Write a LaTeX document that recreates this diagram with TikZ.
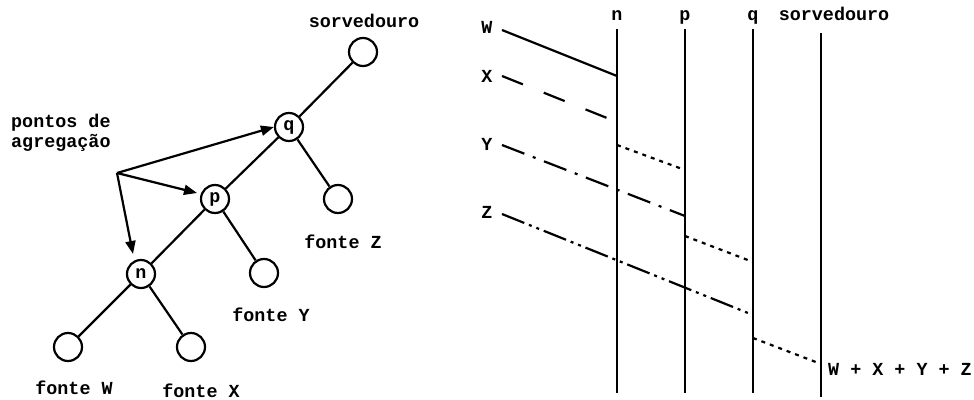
\documentclass[tikz,border=0pt]{standalone}
\usepackage{fontspec}
\setmonofont{Liberation Mono}
\usepackage{tikz}
\usetikzlibrary{arrows.meta}

\tikzset{
  lbl/.style={font=\ttfamily\bfseries\fontsize{18.4}{20}\selectfont, inner sep=0pt},
  vertex/.style={circle, draw, line width=2.2pt, minimum size=28pt, inner sep=0pt,
    font=\ttfamily\bfseries\fontsize{18.4}{20}\selectfont},
  wire/.style={line width=2.2pt},
  pointer/.style={line width=2.2pt, -{Triangle[length=13pt,width=10pt]}},
  dashX/.style={wire, dash pattern=on 22.5pt off 22.5pt},
  dashY/.style={wire, dash pattern=on 24pt off 9pt on 3pt off 9pt},
  dashZ/.style={wire, dash pattern=on 24pt off 5pt on 3pt off 5pt on 3pt off 5pt},
  merged/.style={wire, dash pattern=on 4pt off 5pt},
}

\begin{document}
\begin{tikzpicture}[x=1pt, y=-1pt]
  \useasboundingbox (0,0) rectangle (974,399);

  % aggregation tree
  \node[vertex] (sink) at (363,52) {};
  \node[vertex] (q) at (289,127) {q};
  \node[vertex] (srcZ) at (338,199) {};
  \node[vertex] (p) at (215,199) {p};
  \node[vertex] (srcY) at (264,273) {};
  \node[vertex] (n) at (141,274) {n};
  \node[vertex] (srcW) at (68,347) {};
  \node[vertex] (srcX) at (191,347) {};
  \draw[wire] (sink) -- (q);
  \draw[wire] (q) -- (srcZ);
  \draw[wire] (q) -- (p);
  \draw[wire] (p) -- (srcY);
  \draw[wire] (p) -- (n);
  \draw[wire] (n) -- (srcW);
  \draw[wire] (n) -- (srcX);

  \node[lbl, anchor=base] (sinkLbl) at (364,27) {sorvedouro};
  \node[lbl, anchor=base] (lblZ) at (343,248) {fonte Z};
  \node[lbl, anchor=base] (lblY) at (271,321) {fonte Y};
  \node[lbl, anchor=base] (lblW) at (74,394) {fonte W};
  \node[lbl, anchor=base] (lblX) at (201,397) {fonte X};
  \node[lbl, anchor=base west, align=left] (aggLbl) at (11,147) {pontos de\\agregação};

  % arrows to the aggregation points
  \coordinate (agg) at (117,173);
  \draw[pointer] (agg) -- (q.west);
  \draw[pointer] (agg) -- (197,193) coordinate (pTip);
  \draw[pointer] (agg) -- (133,254) coordinate (nTip);

  % time lines
  \coordinate (nTop) at (617,29);  \coordinate (nBot) at (617,393);
  \coordinate (pTop) at (685,29);  \coordinate (pBot) at (685,393);
  \coordinate (qTop) at (753,29);  \coordinate (qBot) at (753,393);
  \coordinate (sTop) at (821,33);  \coordinate (sBot) at (821,397);
  \draw[wire] (nTop) -- (nBot);
  \draw[wire] (pTop) -- (pBot);
  \draw[wire] (qTop) -- (qBot);
  \draw[wire] (sTop) -- (sBot);
  \node[lbl, anchor=base] (tn) at (617,20) {n};
  \node[lbl, anchor=base] (tp) at (685,20) {p};
  \node[lbl, anchor=base] (tq) at (753,20) {q};
  \node[lbl, anchor=base] (ts) at (834,20) {sorvedouro};

  % sources
  \node[lbl, anchor=base] (W) at (487,33) {W};
  \node[lbl, anchor=base] (X) at (487,82) {X};
  \node[lbl, anchor=base] (Y) at (487,150) {Y};
  \node[lbl, anchor=base] (Z) at (487,218) {Z};
  \draw[wire] (502,30) coordinate (wStart) -- (617,76) coordinate (wEnd);
  \draw[dashX] (502,76) coordinate (xStart) -- (617,122) coordinate (xEnd);
  \draw[dashY] (502,145) coordinate (yStart) -- (685,216) coordinate (yEnd);
  \draw[dashZ] (502,214) coordinate (zStart) -- (753,315) coordinate (zEnd);

  % merged traffic
  \draw[merged] (617,145) coordinate (np1) -- (685,170) coordinate (np2);
  \draw[merged] (685,236) coordinate (pq1) -- (753,262) coordinate (pq2);
  \draw[merged] (753,338) coordinate (qs1) -- (821,364) coordinate (qs2);
  \node[lbl, anchor=base west] (total) at (828,375) {W + X + Y + Z};
\end{tikzpicture}
\end{document}
